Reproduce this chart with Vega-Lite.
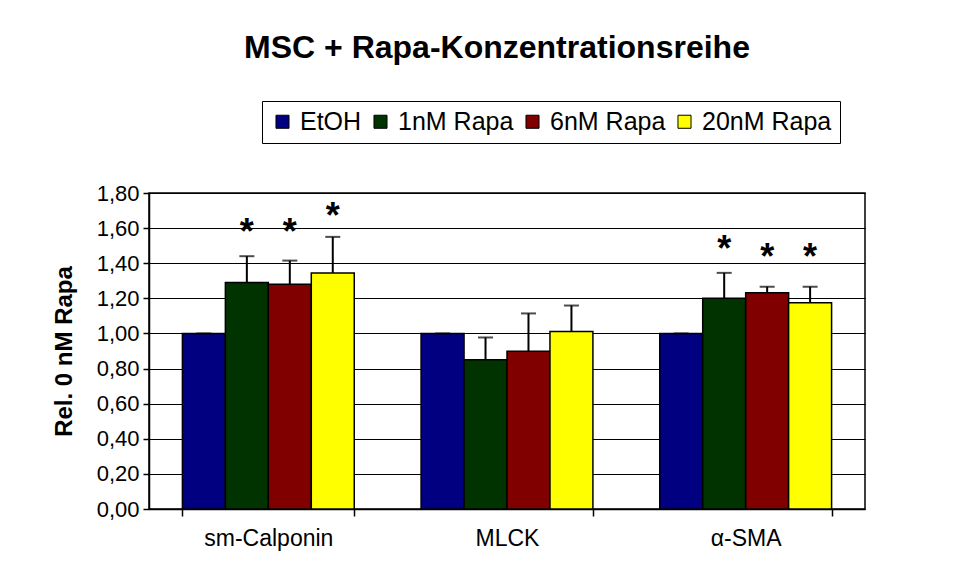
{
  "$schema": "https://vega.github.io/schema/vega-lite/v6.json",
  "width": 716,
  "height": 316,
  "autosize": {"type": "none"},
  "padding": {"left": 149, "top": 193, "right": 92, "bottom": 70},
  "background": "white",
  "title": {
    "text": "MSC + Rapa-Konzentrationsreihe",
    "frame": "group",
    "anchor": "middle",
    "dx": -10,
    "offset": 11,
    "baseline": "alphabetic",
    "font": "Liberation Sans",
    "fontSize": 32,
    "fontWeight": "bold",
    "color": "black"
  },
  "config": {
    "font": "Liberation Sans",
    "view": {"stroke": "black", "strokeWidth": 1.5},
    "axis": {
      "labelFont": "Liberation Sans",
      "titleFont": "Liberation Sans",
      "labelColor": "black",
      "titleColor": "black",
      "domainColor": "black",
      "tickColor": "black"
    },
    "axisY": {
      "tickCount": 10,
      "labelExpr": "replace(format(datum.value, '.2f'), '.', ',')",
      "labelOverlap": false,
      "labelFlush": false,
      "labelFontSize": 22,
      "labelPadding": 4,
      "tickSize": 6,
      "tickWidth": 1.5,
      "domainWidth": 1.5,
      "grid": true,
      "gridColor": "black",
      "gridWidth": 1,
      "gridOpacity": 1,
      "titleFontSize": 24,
      "titleFontWeight": "bold",
      "titlePadding": 20
    }
  },
  "data": {
    "values": [
      {"gene": "sm-Calponin", "group": "EtOH", "value": 1.0, "errTop": 1.0, "star": null},
      {"gene": "sm-Calponin", "group": "1nM Rapa", "value": 1.29, "errTop": 1.44, "star": 1.616},
      {"gene": "sm-Calponin", "group": "6nM Rapa", "value": 1.28, "errTop": 1.415, "star": 1.616},
      {"gene": "sm-Calponin", "group": "20nM Rapa", "value": 1.345, "errTop": 1.55, "star": 1.71},
      {"gene": "MLCK", "group": "EtOH", "value": 1.0, "errTop": 1.0, "star": null},
      {"gene": "MLCK", "group": "1nM Rapa", "value": 0.85, "errTop": 0.977, "star": null},
      {"gene": "MLCK", "group": "6nM Rapa", "value": 0.898, "errTop": 1.114, "star": null},
      {"gene": "MLCK", "group": "20nM Rapa", "value": 1.011, "errTop": 1.159, "star": null},
      {"gene": "α-SMA", "group": "EtOH", "value": 1.0, "errTop": 1.0, "star": null},
      {"gene": "α-SMA", "group": "1nM Rapa", "value": 1.2, "errTop": 1.345, "star": 1.52},
      {"gene": "α-SMA", "group": "6nM Rapa", "value": 1.232, "errTop": 1.266, "star": 1.474},
      {"gene": "α-SMA", "group": "20nM Rapa", "value": 1.175, "errTop": 1.266, "star": 1.474}
    ]
  },
  "encoding": {
    "x": {
      "field": "gene",
      "type": "nominal",
      "sort": ["sm-Calponin", "MLCK", "α-SMA"],
      "scale": {"paddingInner": 0.28, "paddingOuter": 0.14},
      "axis": {
        "title": null,
        "labelAngle": 0,
        "labelFontSize": 23,
        "labelPadding": 11,
        "tickBand": "extent",
        "tickSize": 7,
        "tickWidth": 1.5,
        "domainWidth": 1.5
      }
    },
    "xOffset": {
      "field": "group",
      "type": "nominal",
      "sort": ["EtOH", "1nM Rapa", "6nM Rapa", "20nM Rapa"],
      "scale": {"paddingInner": 0, "paddingOuter": 0}
    }
  },
  "layer": [
    {
      "mark": {"type": "bar", "stroke": "black", "strokeWidth": 1.5},
      "encoding": {
        "y": {
          "field": "value",
          "type": "quantitative",
          "scale": {"domain": [0, 1.8], "nice": false},
          "title": "Rel. 0 nM Rapa"
        },
        "color": {
          "field": "group",
          "type": "nominal",
          "sort": ["EtOH", "1nM Rapa", "6nM Rapa", "20nM Rapa"],
          "scale": {
            "domain": ["EtOH", "1nM Rapa", "6nM Rapa", "20nM Rapa"],
            "range": ["#000080", "#003300", "#800000", "#FFFF00"]
          },
          "legend": {
            "title": null,
            "orient": "none",
            "legendX": 113,
            "legendY": -92,
            "direction": "horizontal",
            "columns": 4,
            "symbolType": "square",
            "symbolSize": 170,
            "symbolStrokeColor": "black",
            "symbolStrokeWidth": 1,
            "symbolOpacity": 1,
            "labelFont": "Liberation Sans",
            "labelFontSize": 25,
            "labelColor": "black",
            "labelOffset": 5,
            "columnPadding": 6,
            "strokeColor": "black",
            "fillColor": "white",
            "padding": 8
          }
        }
      }
    },
    {
      "mark": {"type": "rule", "color": "black", "strokeWidth": 2},
      "encoding": {
        "y": {"field": "value", "type": "quantitative", "title": "Rel. 0 nM Rapa"},
        "y2": {"field": "errTop"}
      }
    },
    {
      "mark": {"type": "tick", "color": "black", "thickness": 2, "size": 15, "orient": "horizontal"},
      "encoding": {
        "y": {"field": "errTop", "type": "quantitative", "title": "Rel. 0 nM Rapa"}
      }
    },
    {
      "transform": [{"filter": "datum.star != null"}],
      "mark": {"type": "text", "text": "*", "fontSize": 36, "fontWeight": "bold", "baseline": "middle", "dy": 8, "color": "black"},
      "encoding": {
        "y": {"field": "star", "type": "quantitative", "title": "Rel. 0 nM Rapa"}
      }
    }
  ]
}
